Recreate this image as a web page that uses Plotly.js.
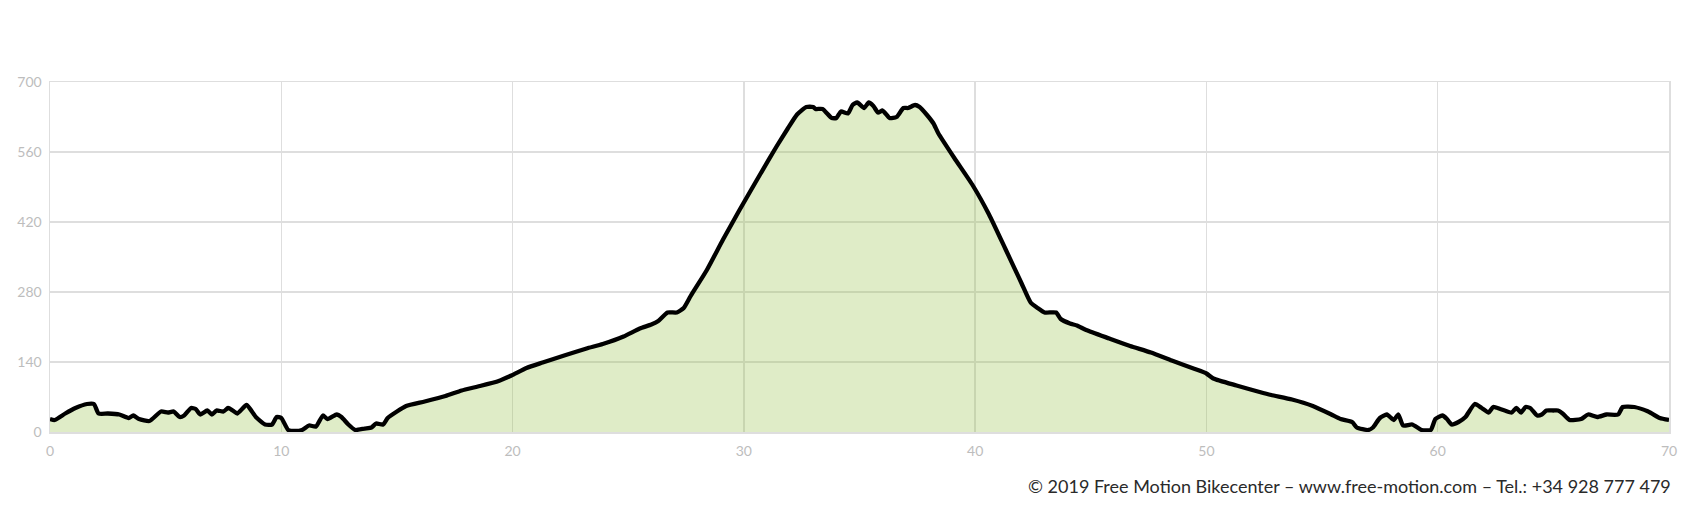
<!DOCTYPE html>
<html>
<head>
<meta charset="utf-8">
<script src="https://cdn.plot.ly/plotly-3.0.1.min.js"></script>
<style>html,body{margin:0;padding:0;background:#fff;}#chart{width:1704px;height:521px;}</style>
</head>
<body>
<div id="chart"></div>
<script>
const distanceKm = [0,0.2,0.66,1.1,1.6,1.9,2.1,2.5,3.0,3.4,3.6,3.85,4.3,4.8,5.1,5.35,5.6,5.8,6.1,6.3,6.5,6.8,7.0,7.2,7.5,7.7,7.9,8.1,8.5,8.9,9.3,9.6,9.8,10.0,10.3,10.6,10.9,11.2,11.5,11.8,12.0,12.4,12.6,12.9,13.2,13.6,13.9,14.1,14.4,14.6,15.0,15.4,16.2,17.1,17.8,18.5,19.4,19.95,20.6,21.3,22.3,23.2,23.9,24.8,25.5,26.0,26.3,26.7,27.1,27.4,27.7,28.4,29.1,29.8,30.7,31.4,31.9,32.3,32.7,33.0,33.1,33.4,33.8,34.0,34.2,34.5,34.7,34.9,35.2,35.4,35.6,35.8,36.0,36.3,36.6,36.9,37.1,37.4,37.6,37.9,38.2,38.4,39.1,39.9,40.6,41.3,42.0,42.4,42.7,43.0,43.5,43.7,44.1,44.4,44.8,45.8,46.7,47.6,48.5,49.5,50.0,50.3,51.3,52.3,52.8,53.7,54.6,55.4,55.8,56.3,56.5,57.0,57.2,57.5,57.8,58.1,58.3,58.5,58.9,59.3,59.7,59.9,60.2,60.4,60.6,60.9,61.2,61.6,61.9,62.2,62.4,62.7,62.9,63.2,63.4,63.6,63.8,64.0,64.3,64.5,64.7,65.0,65.2,65.4,65.7,66.2,66.5,66.9,67.3,67.8,68.0,68.5,69.1,69.6,70.0];
const elevationM = [26,24,37,48,56,56,37,37,35,28,33,26,22,41,39,41,30,33,48,46,35,43,35,43,41,48,43,37,54,30,15,15,30,28,4,2,4,13,11,33,26,35,30,15,4,7,9,17,15,28,41,52,61,72,83,91,102,113,128,139,154,167,176,191,207,215,222,239,239,248,272,324,385,443,515,570,607,635,650,650,646,646,628,628,641,637,654,659,648,659,652,639,643,628,630,648,648,654,650,635,617,598,548,493,435,367,298,259,248,239,239,226,217,213,204,187,172,159,143,126,117,107,93,80,74,65,52,35,26,20,9,4,9,28,35,24,35,13,15,4,4,26,33,26,15,20,30,56,48,39,50,46,43,39,48,39,50,48,33,35,43,43,43,37,24,26,35,30,35,35,50,50,41,28,24];
const xTicks = [0,10,20,30,40,50,60,70];
const yTicks = [0,140,280,420,560,700];
const creditText = "© 2019 Free Motion Bikecenter – www.free-motion.com – Tel.: +34 928 777 479";

const trace = {
  x: distanceKm, y: elevationM, type: 'scatter', mode: 'lines',
  fill: 'tozeroy', fillcolor: 'rgba(148,192,68,0.3)',
  line: {color: '#000', width: 4.3, shape: 'spline', smoothing: 0.5},
  hoverinfo: 'skip'
};
const axisFont = {family: 'Lato, "Open Sans", sans-serif', size: 14, color: '#bdbdbd'};
const layout = {
  width: 1704, height: 521,
  margin: {l: 50, r: 35, t: 82, b: 89},
  paper_bgcolor: '#fff', plot_bgcolor: '#fff',
  showlegend: false,
  xaxis: {range: [0, 70], tickvals: xTicks, ticktext: xTicks.map(String),
    showgrid: true, gridcolor: '#dedede', gridwidth: 1.5, zeroline: false,
    showline: true, linecolor: '#dedede', linewidth: 1.5, mirror: true,
    ticks: '', tickfont: axisFont, ticklabelstandoff: 6},
  yaxis: {range: [0, 700], tickvals: yTicks, ticktext: yTicks.map(String),
    showgrid: true, gridcolor: '#dedede', gridwidth: 1.5, zeroline: false,
    showline: true, linecolor: '#dedede', linewidth: 1.5, mirror: true,
    ticks: '', tickfont: axisFont, ticklabelstandoff: 4},
  annotations: [{
    text: creditText, xref: 'paper', yref: 'paper', x: 1, y: -0.155,
    xanchor: 'right', yanchor: 'middle', xshift: 4, showarrow: false,
    font: {family: 'Lato, "Open Sans", sans-serif', size: 18, color: '#2a2a2a'}
  }]
};
Plotly.newPlot('chart', [trace], layout, {staticPlot: true, displayModeBar: false});
</script>
</body>
</html>
